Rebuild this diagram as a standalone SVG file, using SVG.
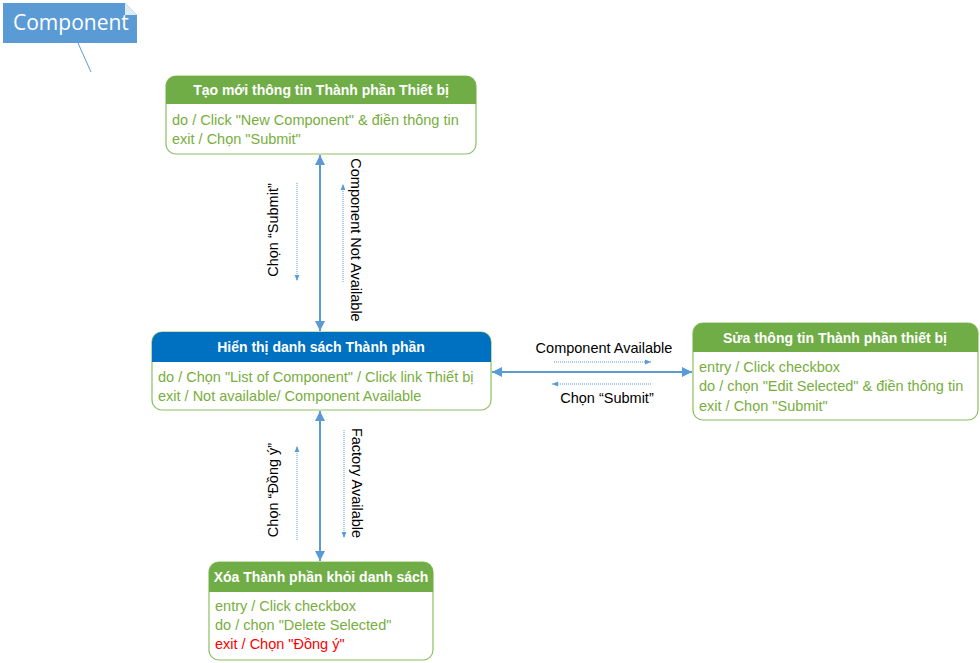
<svg xmlns="http://www.w3.org/2000/svg" width="980" height="663" viewBox="0 0 980 663">
<defs>
<style>
.hdr{font-family:"Liberation Sans",Arial,sans-serif;font-size:14px;font-weight:bold;fill:#fff;text-anchor:middle}
.bd{font-family:"Liberation Sans",Arial,sans-serif;font-size:14.5px;fill:#77AE3E}
.red{fill:#FF0000}
.lbl{font-family:"Liberation Sans",Arial,sans-serif;font-size:14.5px;fill:#000}
.box{fill:#fff;stroke:#8CC063;stroke-width:1.2}
.main{stroke:#5B9BD5;stroke-width:2;fill:none;marker-start:url(#ah);marker-end:url(#ah)}
.dot{stroke:#5B9BD5;stroke-width:1;stroke-dasharray:1 1;fill:none;marker-end:url(#sh)}
</style>
<marker id="ah" viewBox="0 0 10 10" refX="10" refY="5" markerWidth="5" markerHeight="5" orient="auto-start-reverse" markerUnits="strokeWidth"><path d="M0,0 L10,5 L0,10 z" fill="#5B9BD5"/></marker>
<marker id="sh" viewBox="0 0 10 10" refX="10" refY="5" markerWidth="6" markerHeight="6" orient="auto" markerUnits="strokeWidth"><path d="M0,1 L10,5 L0,9 z" fill="#5B9BD5"/></marker>
</defs>
<g id="tag">
<path d="M3,3 H125 L137,15 V43 H3 Z" fill="#5B9BD5"/>
<path d="M125,3 L137,15 H125 Z" fill="#DDEBF7"/>
<line x1="78" y1="43" x2="91" y2="72" stroke="#5B9BD5" stroke-width="1"/>
<text x="13" y="30" font-family="'Open Sans','Liberation Sans',sans-serif" font-size="21" fill="#fff">Component</text>
</g>
<g id="connectors">
<line class="main" x1="320" y1="155" x2="320" y2="331"/>
<line class="dot" x1="297" y1="183" x2="297" y2="281"/>
<line class="dot" x1="343" y1="282" x2="343" y2="184"/>
<text class="lbl" transform="translate(278,230) rotate(-90)" text-anchor="middle">Chọn “Submit”</text>
<text class="lbl" transform="translate(351,240) rotate(90)" text-anchor="middle">Component Not Available</text>
<line class="main" x1="492" y1="372" x2="692" y2="372"/>
<line class="dot" x1="554" y1="362" x2="651" y2="362"/>
<line class="dot" x1="651" y1="384" x2="552" y2="384"/>
<text class="lbl" x="604" y="353" text-anchor="middle">Component Available</text>
<text class="lbl" x="607" y="403" text-anchor="middle">Chọn “Submit”</text>
<line class="main" x1="320" y1="411" x2="320" y2="561"/>
<line class="dot" x1="297" y1="540" x2="297" y2="446"/>
<line class="dot" x1="344" y1="430" x2="344" y2="538"/>
<text class="lbl" transform="translate(278,490) rotate(-90)" text-anchor="middle">Chọn “Đồng ý”</text>
<text class="lbl" transform="translate(352,483) rotate(90)" text-anchor="middle">Factory Available</text>
</g>
<g id="node-create">
<rect class="box" x="166" y="76" width="310" height="78" rx="10"/>
<path d="M166,104 V86 A10,10 0 0 1 176,76 H466 A10,10 0 0 1 476,86 V104 Z" fill="#70AD47"/>
<text class="hdr" x="321" y="95">Tạo mới thông tin Thành phần Thiết bị</text>
<text class="bd" x="172" y="125">do / Click "New Component" &amp; điền thông tin</text>
<text class="bd" x="172" y="144">exit / Chọn "Submit"</text>
</g>
<g id="node-list">
<rect class="box" x="152" y="332" width="339" height="78" rx="10"/>
<path d="M152,362 V342 A10,10 0 0 1 162,332 H481 A10,10 0 0 1 491,342 V362 Z" fill="#0070C0"/>
<text class="hdr" x="321" y="352">Hiển thị danh sách Thành phần</text>
<text class="bd" x="158" y="382">do / Chọn "List of Component" / Click link Thiết bị</text>
<text class="bd" x="158" y="401">exit / Not available/ Component Available</text>
</g>
<g id="node-edit">
<rect class="box" x="693" y="323" width="285" height="97" rx="10"/>
<path d="M693,352 V333 A10,10 0 0 1 703,323 H968 A10,10 0 0 1 978,333 V352 Z" fill="#70AD47"/>
<text class="hdr" x="835" y="343">Sửa thông tin Thành phần thiết bị</text>
<text class="bd" x="699" y="372">entry / Click checkbox</text>
<text class="bd" x="699" y="391">do / chọn "Edit Selected" &amp; điền thông tin</text>
<text class="bd" x="699" y="411">exit / Chọn "Submit"</text>
</g>
<g id="node-delete">
<rect class="box" x="209" y="562" width="224" height="98" rx="10"/>
<path d="M209,592 V572 A10,10 0 0 1 219,562 H423 A10,10 0 0 1 433,572 V592 Z" fill="#70AD47"/>
<text class="hdr" x="321" y="582">Xóa Thành phần khỏi danh sách</text>
<text class="bd" x="215" y="611">entry / Click checkbox</text>
<text class="bd" x="215" y="630">do / chọn "Delete Selected"</text>
<text class="bd red" x="215" y="649">exit / Chọn "Đồng ý"</text>
</g>
</svg>
